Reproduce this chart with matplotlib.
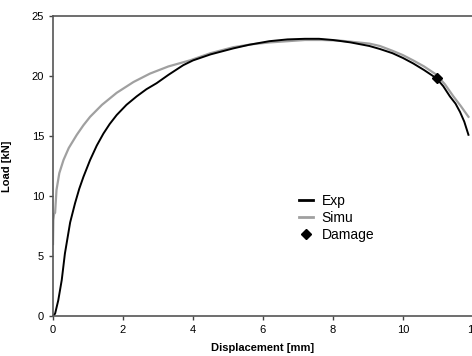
import matplotlib
matplotlib.use("Agg")
import matplotlib.pyplot as plt
from matplotlib.lines import Line2D

# experimental load-displacement curve
exp_x = [0, 0.06, 0.15, 0.25, 0.34, 0.49, 0.63, 0.75, 0.87, 1.06, 1.25, 1.44,
         1.62, 1.82, 2.1, 2.39, 2.67, 2.96, 3.3, 3.72, 4.0, 4.5, 5.15, 5.6,
         6.18, 6.7, 7.2, 7.6, 8.0, 8.5, 9.04, 9.34, 9.7, 10.0, 10.29, 10.6,
         10.96, 11.15, 11.34, 11.5, 11.63, 11.75, 11.87]
exp_y = [0, 0.2, 1.3, 3.0, 5.2, 7.8, 9.4, 10.6, 11.6, 13.0, 14.2, 15.2,
         16.0, 16.75, 17.6, 18.3, 18.9, 19.4, 20.1, 20.9, 21.3, 21.8, 22.3, 22.6,
         22.9, 23.05, 23.1, 23.1, 23.0, 22.8, 22.5, 22.25, 21.9, 21.5, 21.05, 20.5,
         19.8, 19.15, 18.3, 17.7, 17.0, 16.2, 15.1]

# simulation curve
simu_x = [0, 0.01, 0.03, 0.06, 0.1, 0.18, 0.3, 0.45, 0.68, 0.87, 1.06, 1.4,
          1.82, 2.3, 2.77, 3.3, 3.91, 4.5, 5.15, 5.7, 6.2, 6.7, 7.2, 7.7, 8.2,
          8.7, 9.04, 9.34, 9.7, 9.99, 10.29, 10.6, 10.96, 11.2, 11.44, 11.65, 11.87]
simu_y = [6.0, 8.0, 8.5, 8.6, 10.5, 11.9, 13.0, 14.0, 15.1, 15.9, 16.6, 17.6,
          18.6, 19.5, 20.2, 20.8, 21.3, 21.9, 22.4, 22.65, 22.8, 22.9, 23.0, 23.0, 22.95,
          22.8, 22.7, 22.5, 22.1, 21.75, 21.3, 20.8, 20.1, 19.3, 18.3, 17.5, 16.6]

# damage point
dmg_x = [10.96]
dmg_y = [19.8]

xticks = [0, 2, 4, 6, 8, 10, 12]
yticks = [0, 5, 10, 15, 20, 25]

plt.rcParams['font.family'] = ['Liberation Sans', 'DejaVu Sans']

fig = plt.figure(figsize=(4.72, 3.56), dpi=100)
ax = fig.add_axes([53 / 472, 1 - 316 / 356, 420 / 472, 300 / 356])

ax.plot(simu_x, simu_y, color='#a0a0a0', lw=1.6)
ax.plot(exp_x, exp_y, color='black', lw=1.4)
ax.plot(dmg_x, dmg_y, marker='D', color='black', ms=5, ls='none')

ax.set_xlim(0, 12)
ax.set_ylim(0, 25)
ax.set_xticks(xticks)
ax.set_yticks(yticks)
ax.tick_params(direction='out', length=3, width=1, colors='#444444',
               labelsize=8, labelcolor='black')
for s in ['left', 'bottom', 'top']:
    ax.spines[s].set_color('#555555')
    ax.spines[s].set_linewidth(1.2)
ax.spines['right'].set_visible(False)

ax.set_xlabel('Displacement [mm]', fontsize=8, fontweight='bold', labelpad=6)
ax.set_ylabel('Load [kN]', fontsize=8, fontweight='bold', labelpad=14)

handles = [Line2D([], [], color='black', lw=2),
           Line2D([], [], color='#a0a0a0', lw=2),
           Line2D([], [], color='black', marker='D', ms=5, ls='none')]
ax.legend(handles, ['Exp', 'Simu', 'Damage'], loc='upper left',
          bbox_to_anchor=(0.57, 0.43), frameon=False, fontsize=10,
          handlelength=1.0, handletextpad=0.6, labelspacing=0.2,
          borderpad=0)

fig.savefig('out.png', dpi=100)
